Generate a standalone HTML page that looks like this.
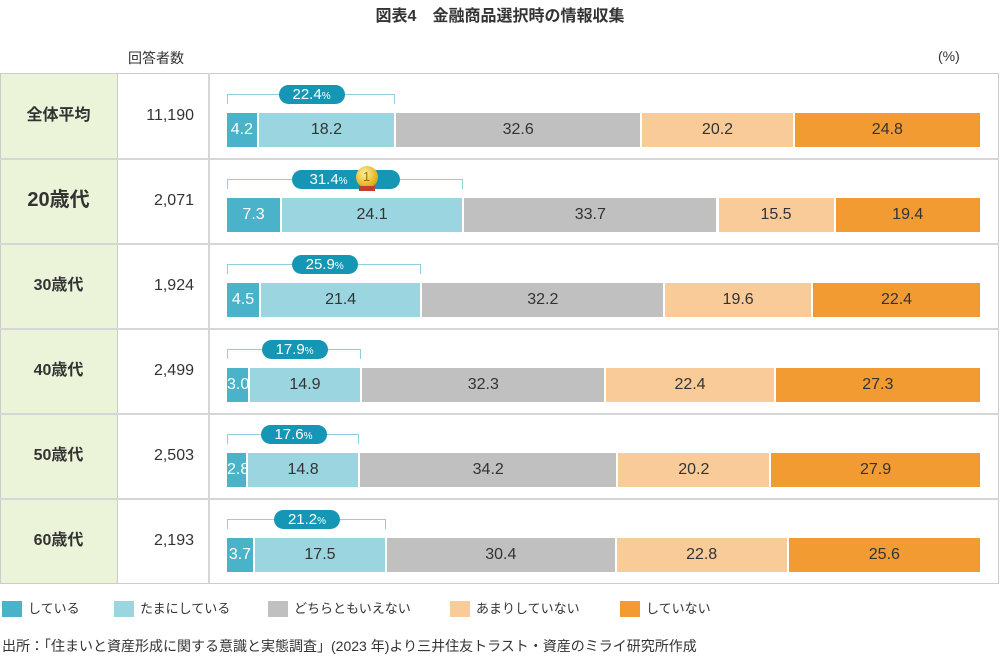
<!DOCTYPE html>
<html><head><meta charset="utf-8"><style>
body{margin:0;width:1000px;height:660px;background:#fff;font-family:"Liberation Sans","Noto Sans CJK JP",sans-serif;position:relative;overflow:hidden;color:#333}
.a{position:absolute}
.seg{position:absolute;top:0;height:34px;line-height:34px;text-align:center;font-size:16px;color:#333;box-sizing:border-box;border-right:2px solid #fff;white-space:nowrap;overflow:hidden}
.pill{position:absolute;height:19px;line-height:19px;border-radius:10px;background:#1596b4;color:#fff;font-size:15px;text-align:center}
.pill small{font-size:10px}
.lg{position:absolute;top:601px;font-size:13px;line-height:16px}
.lg i{display:inline-block;width:20px;height:16px;vertical-align:top;margin-right:6px}
</style></head><body>
<div class="a" style="left:0;top:2px;width:1000px;text-align:center;font-size:16px;font-weight:bold">図表4　金融商品選択時の情報収集</div>
<div class="a" style="left:128px;top:48px;font-size:14px">回答者数</div>
<div class="a" style="left:938px;top:48px;font-size:14px">(%)</div>
<div id="t"></div>
<div class="lg" style="left:2px"><i style="background:#4bb3c9"></i>している</div>
<div class="lg" style="left:114px"><i style="background:#9ad5e0"></i>たまにしている</div>
<div class="lg" style="left:268px"><i style="background:#c0c0c0"></i>どちらともいえない</div>
<div class="lg" style="left:450px"><i style="background:#f8cb98"></i>あまりしていない</div>
<div class="lg" style="left:620px"><i style="background:#f29b33"></i>していない</div>
<div class="a" style="left:2px;top:636px;font-size:14px">出所：「住まいと資産形成に関する意識と実態調査」(2023 年)より三井住友トラスト・資産のミライ研究所作成</div>
<script>
var rows=[["全体平均","11,190",[4.2,18.2,32.6,20.2,24.8],"22.4"],["20歳代","2,071",[7.3,24.1,33.7,15.5,19.4],"31.4"],["30歳代","1,924",[4.5,21.4,32.2,19.6,22.4],"25.9"],["40歳代","2,499",[3.0,14.9,32.3,22.4,27.3],"17.9"],["50歳代","2,503",[2.8,14.8,34.2,20.2,27.9],"17.6"],["60歳代","2,193",[3.7,17.5,30.4,22.8,25.6],"21.2"]];
var cols=["#4bb3c9","#9ad5e0","#c0c0c0","#f8cb98","#f29b33"];
var h='<div class="a" style="left:0;top:73px;width:117px;height:510px;background:#ebf4d9"></div>';
h+='<div class="a" style="left:0;top:73px;width:997px;height:509px;border:1px solid #ccc"></div>';
h+='<div class="a" style="left:117px;top:73px;width:1px;height:510px;background:#ccc"></div>';
h+='<div class="a" style="left:208px;top:73px;width:2px;height:510px;background:#d6d6d6"></div>';
rows.forEach(function(r,i){
 var T=73+85*i;
 if(i>0)h+='<div class="a" style="left:0;top:'+T+'px;width:999px;height:2px;background:#d6d6d6"></div>';
 var fs=i==1?20:16;
 h+='<div class="a" style="left:0;top:'+T+'px;width:117px;height:85px;line-height:85px;text-align:center;font-weight:bold;font-size:'+fs+'px">'+r[0]+'</div>';
 h+='<div class="a" style="left:118px;top:'+T+'px;width:76px;height:85px;line-height:85px;text-align:right;font-size:16px">'+r[1]+'</div>';
 var x=227,W=755,s='';
 var tot=r[2].reduce(function(a,b){return a+b},0);
 var xe=0;
 r[2].forEach(function(v,j){var w=v/tot*W;var c=j==0?'#fff':'#333';
  s+='<div class="seg" style="left:'+(x-227)+'px;width:'+w+'px;background:'+cols[j]+';color:'+c+'">'+v.toFixed(1)+'</div>';x+=w;if(j==1)xe=x;});
 h+='<div class="a" style="left:227px;top:'+(T+40)+'px;width:755px;height:34px">'+s+'</div>';
 h+='<div class="a" style="left:227px;top:'+(T+21)+'px;width:'+(xe-228-2)+'px;height:9px;border:1.5px solid #8fcfdc;border-bottom:none"></div>';
 var pw=i==1?108:66,cx=(227+xe)/2;
 h+='<div class="pill" style="left:'+(cx-pw/2)+'px;top:'+(T+12)+'px;width:'+pw+'px">'+(i==1?'<span style="margin-right:34px">':'<span>')+r[3]+'<small>%</small></span></div>';
 if(i==1)h+='<div class="a" style="left:'+(cx+10)+'px;top:'+(T+8)+'px;width:22px;height:22px;border-radius:50%;background:radial-gradient(circle at 40% 35%,#fff3a0,#e6b520 60%,#b88a10);color:#a07010;font-size:13px;text-align:center;line-height:22px">1</div><div class="a" style="left:'+(cx+13)+'px;top:'+(T+28)+'px;width:16px;height:5px;background:#c04030"></div>';
});
document.getElementById('t').innerHTML=h;
</script>
</body></html>
